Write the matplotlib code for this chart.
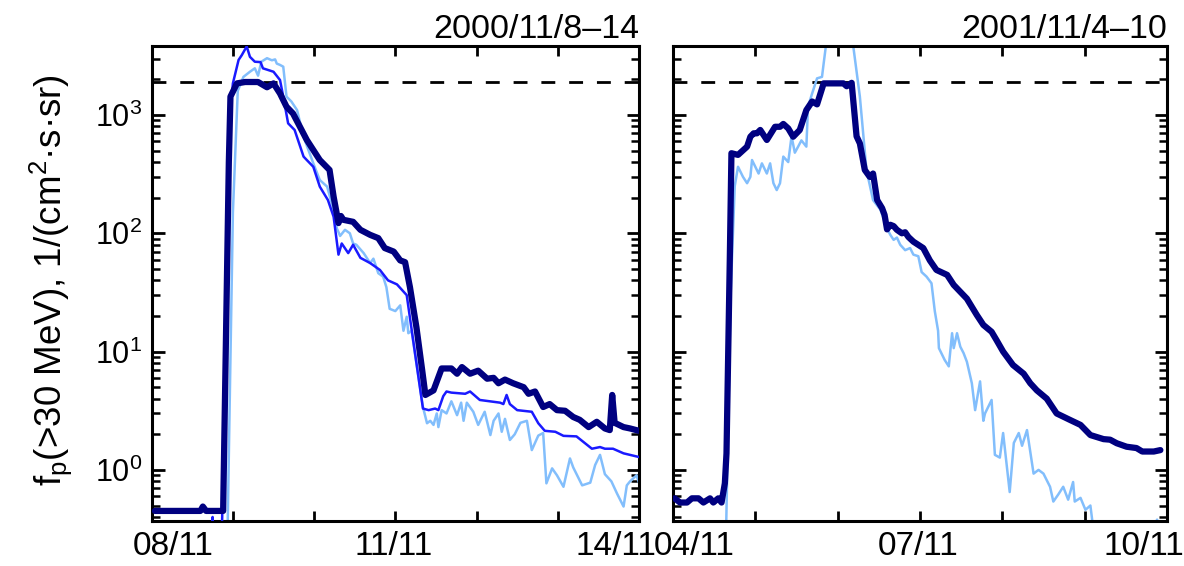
"""
Proton flux >30 MeV for two SEP events (2000/11/8-14 and 2001/11/4-10)
log scale, time in days from the first day shown
"""

import matplotlib
matplotlib.use("Agg")
import matplotlib.pyplot as plt
from matplotlib.ticker import NullLocator

plt.rcParams["font.family"] = "Liberation Sans"
plt.rcParams["mathtext.fontset"] = "custom"
plt.rcParams["mathtext.rm"] = "Liberation Sans"
plt.rcParams["mathtext.it"] = "Liberation Sans"
plt.rcParams["mathtext.bf"] = "Liberation Sans:bold"
plt.rcParams["mathtext.sf"] = "Liberation Sans"
plt.rcParams["mathtext.default"] = "regular"

# ---- event 1: 2000/11/8-14, days since 08/11 00:00
t_navy_1 = [0.04, 0.60, 0.63, 0.67, 0.88, 0.95, 0.97, 1.05, 1.15, 1.31, 1.42, 1.50,
            1.58, 1.66, 1.74, 1.91, 2.07, 2.19, 2.24, 2.30, 2.33, 2.36, 2.48, 2.57,
            2.69, 2.79, 2.87, 2.98, 3.06, 3.12, 3.18, 3.26, 3.33, 3.37, 3.47, 3.57,
            3.69, 3.76, 3.82, 3.92, 4.02, 4.13, 4.21, 4.27, 4.35, 4.45, 4.58, 4.64,
            4.72, 4.82, 4.90, 4.99, 5.09, 5.19, 5.27, 5.38, 5.48, 5.58, 5.64, 5.67,
            5.70, 5.81, 5.89, 6.0]
f_navy_1 = [0.45, 0.45, 0.49, 0.45, 0.45, 400, 1430, 1850, 1900, 1900, 1715, 1850,
            1520, 1175, 1030, 615, 416, 343, 204, 122, 140, 130, 125, 107,
            97, 91, 75, 70, 59, 57, 35, 16, 7, 4.3, 4.7, 7.2,
            7.2, 6.5, 7.4, 6.5, 6.9, 5.9, 6.0, 5.4, 5.8, 5.4, 5.0, 4.4,
            4.6, 3.4, 3.6, 3.2, 3.16, 2.8, 2.65, 2.3, 2.55, 2.24, 2.17, 4.3,
            2.5, 2.3, 2.24, 2.14]

t_blue_1 = [0.0, 0.74, 0.75, 0.76, 0.86, 0.96, 1.00, 1.07, 1.11, 1.17, 1.21, 1.27,
            1.34, 1.37, 1.50, 1.58, 1.62, 1.68, 1.76, 1.87, 1.91, 1.99, 2.07, 2.17,
            2.24, 2.30, 2.34, 2.42, 2.48, 2.57, 2.69, 2.81, 2.91, 3.02, 3.14, 3.34,
            3.41, 3.49, 3.53, 3.59, 3.63, 3.69, 3.86, 3.92, 4.04, 4.29, 4.33, 4.37,
            4.41, 4.50, 4.68, 4.76, 4.84, 4.97, 5.07, 5.23, 5.42, 5.52, 5.58, 5.68,
            5.81, 6.01]
f_blue_1 = [0.2, 0.2, 0.4, 0.2, 0.2, 900, 1850, 2920, 3210, 3800, 3100, 2820,
            2800, 2480, 2320, 1975, 1430, 850, 747, 445, 416, 365, 248, 191,
            138, 66, 82, 68, 80, 62, 56, 49, 40, 37, 30, 3.3,
            3.2, 3.3, 3.2, 4.2, 4.6, 4.5, 4.4, 4.6, 3.9, 3.7, 3.6, 4.3,
            3.6, 3.2, 3.1, 2.48, 2.14, 2.1, 1.94, 1.92, 1.51, 1.56, 1.51, 1.51,
            1.38, 1.28]

t_light_1 = [0.0, 0.93, 1.00, 1.06, 1.13, 1.21, 1.27, 1.31, 1.35, 1.42, 1.48, 1.52,
             1.54, 1.58, 1.62, 1.66, 1.72, 1.79, 1.87, 1.99, 2.07, 2.16, 2.24, 2.28,
             2.32, 2.38, 2.44, 2.48, 2.52, 2.61, 2.69, 2.73, 2.79, 2.85, 2.89, 2.93,
             3.00, 3.06, 3.10, 3.14, 3.16, 3.20, 3.26, 3.34, 3.39, 3.43, 3.47, 3.51,
             3.53, 3.57, 3.63, 3.69, 3.76, 3.81, 3.84, 3.88, 3.96, 4.02, 4.10, 4.17,
             4.21, 4.27, 4.31, 4.35, 4.41, 4.47, 4.54, 4.62, 4.68, 4.76, 4.82, 4.86,
             4.93, 4.99, 5.07, 5.15, 5.19, 5.30, 5.40, 5.46, 5.52, 5.58, 5.66, 5.73,
             5.81, 5.85, 5.89, 5.97, 6.01]
f_light_1 = [0.2, 0.2, 150, 1600, 2100, 2320, 2480, 2150, 2820, 3020, 2900, 2950,
             2720, 2650, 2560, 1430, 1300, 1100, 655, 390, 282, 248, 158, 110,
             95, 107, 100, 82, 80, 68, 56, 61, 46, 43, 35, 23,
             22, 24.6, 15, 19.7, 14.3, 15, 7.9, 3.4, 2.48, 2.6, 2.4, 3.0,
             2.3, 3.2, 3.0, 3.8, 2.9, 3.7, 2.6, 3.7, 3.1, 2.4, 3.1, 1.97,
             2.6, 3.0, 2.1, 2.7, 1.79, 2.0, 2.5, 2.6, 1.47, 1.95, 2.05, 0.77,
             1.03, 0.9, 0.72, 1.25, 1.05, 0.74, 0.78, 1.1, 1.34, 0.92, 0.8, 0.63,
             0.49, 0.74, 0.8, 0.9, 0.74]

# ---- event 2: 2001/11/4-10, days since 04/11 00:00
t_navy_2 = [0.02, 0.085, 0.17, 0.23, 0.31, 0.37, 0.45, 0.49, 0.55, 0.59, 0.63, 0.65,
            0.69, 0.71, 0.79, 0.90, 0.94, 0.98, 1.02, 1.06, 1.14, 1.24, 1.30, 1.34,
            1.40, 1.46, 1.54, 1.62, 1.69, 1.75, 1.83, 2.07, 2.11, 2.17, 2.23, 2.27,
            2.33, 2.39, 2.43, 2.48, 2.54, 2.57, 2.60, 2.64, 2.68, 2.72, 2.78, 2.82,
            2.86, 2.92, 3.04, 3.12, 3.20, 3.33, 3.41, 3.49, 3.57, 3.69, 3.77, 3.87,
            3.93, 4.01, 4.13, 4.26, 4.34, 4.42, 4.54, 4.66, 4.82, 4.95, 5.07, 5.23,
            5.31, 5.39, 5.51, 5.63, 5.70, 5.84, 5.92]
f_navy_2 = [0.575, 0.53, 0.53, 0.575, 0.575, 0.53, 0.575, 0.53, 0.575, 0.53, 0.77, 1.38,
            60, 475, 460, 540, 655, 700, 700, 747, 615, 795, 795, 840,
            770, 655, 747, 1100, 1300, 1230, 1850, 1850, 1750, 1870, 660, 575,
            343, 300, 320, 191, 163, 143, 108, 118, 115, 107, 100, 102,
            93, 85, 75, 59, 49, 44.5, 36.6, 32, 28, 20.4, 16.8, 14.7,
            12.5, 10, 7.7, 6.5, 5.4, 4.7, 4.0, 3.0, 2.65, 2.4, 1.97, 1.82,
            1.8, 1.68, 1.57, 1.53, 1.43, 1.43, 1.47]

t_light_2 = [0.0, 0.64, 0.70, 0.75, 0.79, 0.85, 0.90, 0.94, 0.96, 1.00, 1.04, 1.08,
             1.14, 1.18, 1.22, 1.26, 1.30, 1.34, 1.40, 1.44, 1.48, 1.52, 1.56, 1.62,
             1.64, 1.69, 1.75, 1.81, 1.83, 1.87, 2.00, 2.13, 2.19, 2.27, 2.35, 2.43,
             2.52, 2.60, 2.64, 2.68, 2.72, 2.76, 2.82, 2.88, 2.92, 2.98, 3.02, 3.08,
             3.14, 3.18, 3.22, 3.23, 3.30, 3.35, 3.39, 3.41, 3.45, 3.49, 3.53, 3.57,
             3.63, 3.67, 3.73, 3.77, 3.79, 3.87, 3.91, 3.97, 4.01, 4.09, 4.14, 4.20,
             4.24, 4.30, 4.38, 4.44, 4.50, 4.58, 4.62, 4.68, 4.74, 4.80, 4.86, 4.88,
             4.95, 5.01, 5.07, 5.11, 5.50, 5.82, 5.88, 5.94, 6.0]
f_light_2 = [0.2, 0.2, 30, 250, 365, 300, 265, 300, 416, 365, 320, 390,
             320, 390, 265, 232, 265, 445, 400, 660, 480, 540, 610, 540,
             1175, 1520, 2040, 2100, 2720, 4500, 9000, 4000, 3800, 1430, 343, 191,
             158, 110, 97, 88, 92, 80, 72, 75, 66, 64, 47, 43,
             37.8, 22, 15, 10.7, 8.5, 7.5, 14.3, 10.7, 14.3, 11, 9.7, 8.2,
             5.4, 3.2, 5.6, 2.6, 3.0, 3.9, 1.34, 1.27, 2.05, 0.65, 1.69, 2.05,
             1.6, 2.17, 0.93, 1.0, 0.93, 0.72, 0.54, 0.62, 0.72, 0.56, 0.79, 0.54,
             0.58, 0.46, 0.5, 0.3, 0.2, 0.3, 0.38, 0.3, 0.36]

threshold = 1900
labels_1 = ["08/11", "11/11", "14/11"]
labels_2 = ["04/11", "07/11", "10/11"]
titles = ["2000/11/8\u201314", "2001/11/4\u201310"]
# date labels sit a bit inside the end ticks, as in the original
label_pos = [0.26, 2.98, 5.72]

NAVY = "#000080"
BLUE = "#1a1aff"
LIGHT = "#82befc"


def style_axes(ax, xlabels, title):
    """log axis with inward ticks on all sides"""
    ax.set_yscale("log")
    ax.set_ylim(10 ** -0.432, 10 ** 3.583)
    ax.set_xlim(0, 6)
    ax.set_xticks(range(7))
    ax.set_xticklabels([])
    ax.set_xticks(label_pos, xlabels, minor=True)
    ax.axhline(threshold, color="k", lw=2, dashes=(5, 5), zorder=1)
    ax.tick_params(which="both", direction="in", top=True, right=True, width=2)
    ax.tick_params(axis="y", which="major", length=9, pad=7, labelsize=22)
    ax.tick_params(axis="y", which="minor", length=5.5, width=1.8)
    ax.tick_params(axis="x", which="major", length=7)
    ax.tick_params(axis="x", which="minor", length=0, top=False, pad=7,
                   labelsize=24)
    for s in ax.spines.values():
        s.set_linewidth(2.2)
    ax.set_title(title, loc="right", fontsize=24.5, pad=6)


fig = plt.figure(figsize=(11.84, 5.66), dpi=100)
ax1 = fig.add_axes([0.1281, 0.0795, 0.4116, 0.8392])
ax2 = fig.add_axes([0.5684, 0.0795, 0.4172, 0.8392])

ax1.plot(t_light_1, f_light_1, color=LIGHT, lw=1.8, zorder=2)
ax1.plot(t_blue_1, f_blue_1, color=BLUE, lw=1.8, zorder=3)
ax1.plot(t_navy_1, f_navy_1, color=NAVY, lw=4.5, zorder=4,
         solid_joinstyle="round", solid_capstyle="round")
style_axes(ax1, labels_1, titles[0])

ax2.plot(t_light_2, f_light_2, color=LIGHT, lw=1.8, zorder=2)
ax2.plot(t_navy_2, f_navy_2, color=NAVY, lw=4.5, zorder=4,
         solid_joinstyle="round", solid_capstyle="round")
style_axes(ax2, labels_2, titles[1])
ax2.tick_params(axis="y", which="both", labelleft=False)

fig.text(0.043, 0.505, "f$_{p}$(>30 MeV), 1/(cm$^{2}$\u00b7s\u00b7sr)",
         rotation=90, ha="center", va="center", fontsize=26.5)

plt.savefig("out.png", dpi=100)
